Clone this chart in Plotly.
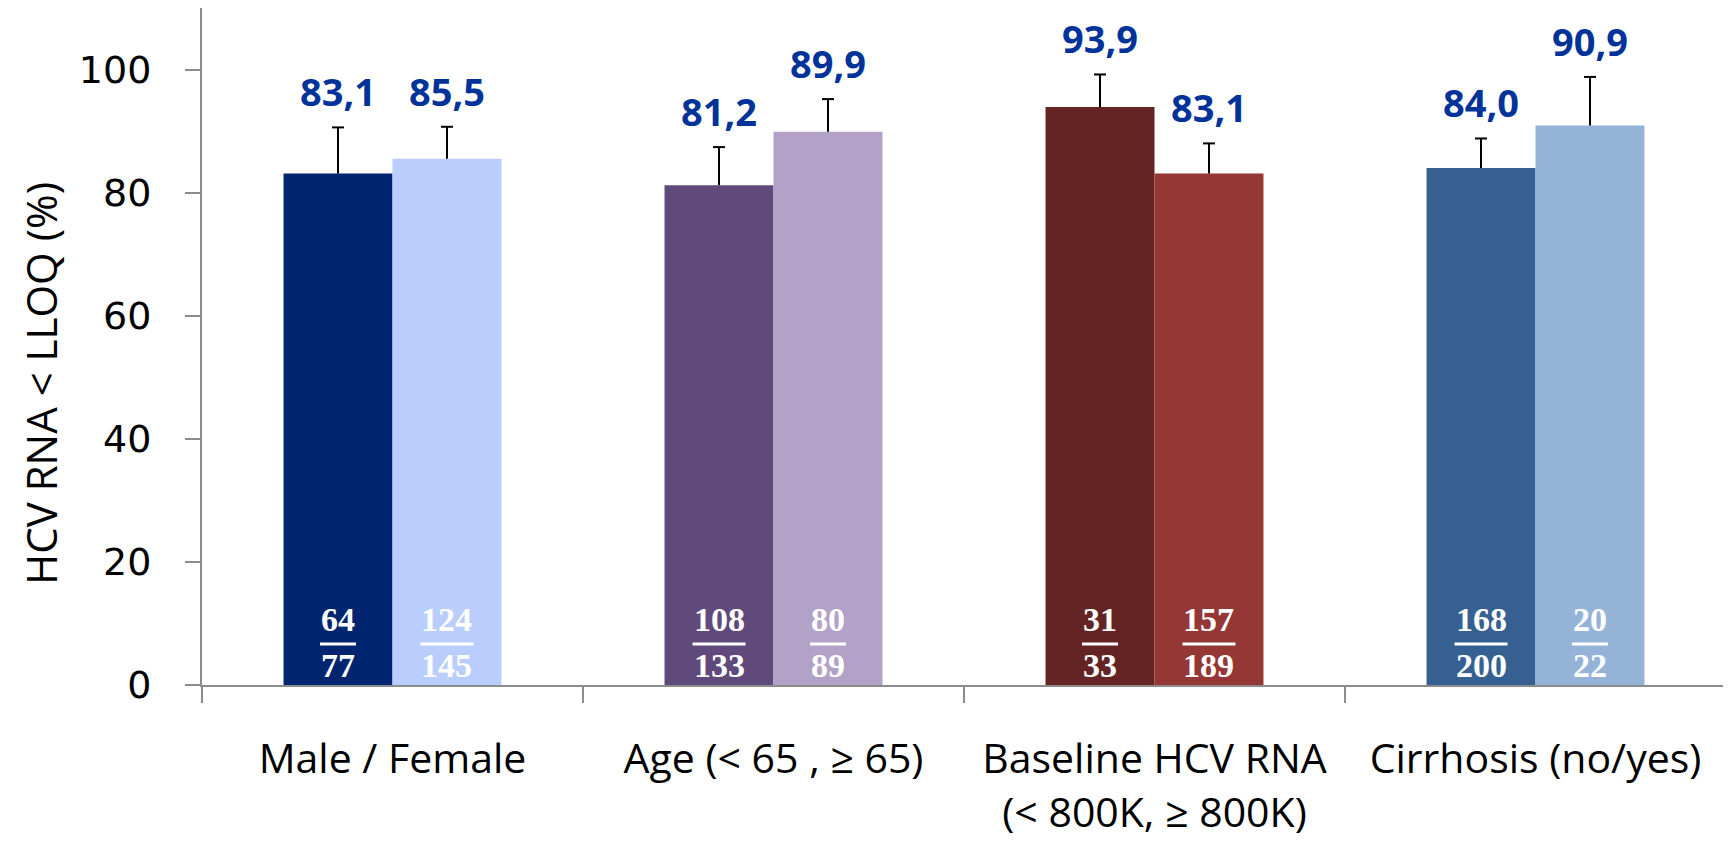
import plotly.graph_objects as go

categories = ["Male / Female", "Age (< 65 , ≥ 65)", "Baseline HCV RNA<br>(< 800K, ≥ 800K)", "Cirrhosis (no/yes)"]
values_a = [83.1, 81.2, 93.9, 84.0]
values_b = [85.5, 89.9, 83.1, 90.9]
err_a = [7.5, 6.2, 5.3, 4.8]
err_b = [5.2, 5.3, 4.9, 7.9]
num_a = [64, 108, 31, 168]
den_a = [77, 133, 33, 200]
num_b = [124, 80, 157, 20]
den_b = [145, 89, 189, 22]
labels_a = ["83,1", "81,2", "93,9", "84,0"]
labels_b = ["85,5", "89,9", "83,1", "90,9"]
colors_a = ["#002570", "#604A7B", "#632423", "#366092"]
colors_b = ["#B9CEFC", "#B3A2C7", "#953735", "#95B3D7"]
y_ticks = [0, 20, 40, 60, 80, 100]
y_title = "HCV RNA < LLOQ (%)"

# page body has an 8px default margin; compensate so the chart fills the 1731x842 window
W, H = 1723, 834
ML, MR, MT, MB = 194, 5, 0, 157
BARGAP = 0.428
plot_w = W - ML - MR
bar_px = plot_w / len(categories) * (1 - BARGAP) / 2
off = bar_px / 2

fig = go.Figure()
fig.add_trace(go.Bar(x=categories, y=values_a, marker=dict(color=colors_a, line=dict(width=0)),
                     error_y=dict(type="data", symmetric=False, array=err_a, arrayminus=[0]*4,
                                  color="#000000", thickness=2, width=0), showlegend=False))
fig.add_trace(go.Bar(x=categories, y=values_b, marker=dict(color=colors_b, line=dict(width=0)),
                     error_y=dict(type="data", symmetric=False, array=err_b, arrayminus=[0]*4,
                                  color="#000000", thickness=2, width=0), showlegend=False))

annotations = []
shapes = []
for i, cat in enumerate(categories):
    for sign, vals, errs, labs, nums, dens in [(-1, values_a, err_a, labels_a, num_a, den_a),
                                               (1, values_b, err_b, labels_b, num_b, den_b)]:
        xs = sign * off
        top = vals[i] + errs[i]
        # error bar cap (top only)
        shapes.append(dict(type="line", xref="x", yref="y", xsizemode="pixel", xanchor=cat,
                           x0=xs - 6, x1=xs + 6, y0=top, y1=top,
                           line=dict(color="#000000", width=2)))
        annotations.append(dict(x=cat, y=top, xref="x", yref="y", xshift=xs, yshift=36,
                                text="<b>%s</b>" % labs[i], showarrow=False, yanchor="middle",
                                font=dict(family="Open Sans", size=38, color="#003399")))
        annotations.append(dict(x=cat, y=0, xref="x", yref="y", xshift=xs, yshift=66,
                                text="<b>%d</b>" % nums[i], showarrow=False, yanchor="middle",
                                font=dict(family="Liberation Serif", size=34, color="#FFFFFF")))
        annotations.append(dict(x=cat, y=0, xref="x", yref="y", xshift=xs, yshift=20,
                                text="<b>%d</b>" % dens[i], showarrow=False, yanchor="middle",
                                font=dict(family="Liberation Serif", size=34, color="#FFFFFF")))
        nd = max(len(str(nums[i])), len(str(dens[i])))
        half = nd * 8.5 + 1
        shapes.append(dict(type="line", xref="x", yref="y", xsizemode="pixel", ysizemode="pixel",
                           xanchor=cat, yanchor=0, x0=xs - half, x1=xs + half, y0=41, y1=41,
                           line=dict(color="#FFFFFF", width=3)))

# y-axis title (sits a little below the plot's vertical centre, as in the reference)
annotations.append(dict(text=y_title, textangle=-90, xref="paper", yref="paper", x=0, y=0.445,
                        xanchor="center", yanchor="middle", xshift=-161, showarrow=False,
                        font=dict(family="Open Sans", size=42, color="#000000")))

fig.update_layout(
    width=W, height=H,
    margin=dict(l=ML, r=MR, t=MT, b=MB, autoexpand=False),
    paper_bgcolor="white", plot_bgcolor="white",
    barmode="group", bargap=BARGAP, bargroupgap=0,
    annotations=annotations, shapes=shapes,
    xaxis=dict(type="category", range=[-0.5, 3.5], showline=True, linecolor="#8C8C8C", linewidth=2,
               ticks="outside", tickson="boundaries", ticklen=16, tickwidth=2, tickcolor="#8C8C8C",
               ticklabelstandoff=37, showgrid=False, zeroline=False, automargin=False,
               tickfont=dict(family="Open Sans", size=41, color="#000000")),
    yaxis=dict(range=[0, 110], tickvals=y_ticks, showline=True, linecolor="#8C8C8C", linewidth=2,
               ticks="outside", ticklen=15, tickwidth=2, tickcolor="#8C8C8C",
               ticklabelstandoff=26, showgrid=False, zeroline=False, automargin=False,
               tickfont=dict(family="DejaVu Sans", size=38, color="#000000")),
)

fig.write_html("out.html")
